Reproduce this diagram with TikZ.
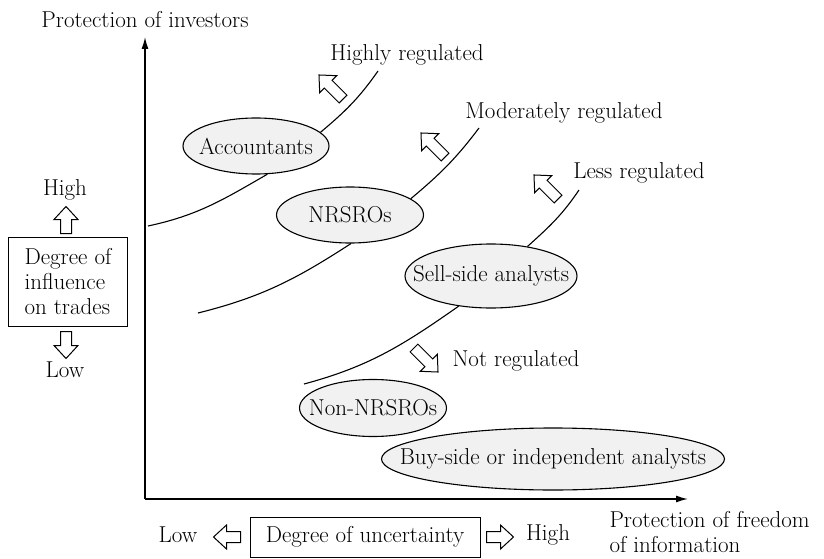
\documentclass[tikz,border=0pt]{standalone}
\usepackage{fontspec}
\usetikzlibrary{shapes.geometric,arrows.meta}

\tikzset{
  group/.style={ellipse,draw,line width=1.1pt,fill=gray!11,inner sep=0pt,
    execute at begin node=\hbox to 0pt\bgroup\hss,
    execute at end node=\hss\egroup},
  frame/.style={draw,line width=1pt,inner sep=0pt},
  border/.style={line width=1.1pt},
  axis/.style={line width=1.4pt,-{Latex[length=12pt,width=7pt]}},
  pics/hollow/.style={code={
    \draw[line width=1pt,fill=white,line join=miter]
      (-#1/2,-5.5) -- (#1/2-13,-5.5) -- (#1/2-13,-12) -- (#1/2,0)
      -- (#1/2-13,12) -- (#1/2-13,5.5) -- (-#1/2,5.5) -- cycle;}}
}

\begin{document}
\begin{tikzpicture}[x=1pt,y=1pt,font=\fontsize{23}{25}\selectfont]
\useasboundingbox (0,0) rectangle (824,558);

% axes
\coordinate (O) at (145,59);
\coordinate (ytop) at (145,521);
\coordinate (xend) at (688,59);
\draw[axis] (O) -- (ytop);
\draw[axis] (O) -- (xend);
\node (yname) at (145,538) {Protection of investors};
\node[anchor=west,align=left] (xname) at (606,26) {Protection of freedom\\of information};

% groups
\node[group,minimum width=146,minimum height=56] (acc) at (256,412) {Accountants};
\node[group,minimum width=147,minimum height=56] (nrsro) at (350,343) {NRSROs};
\node[group,minimum width=172,minimum height=64] (sell) at (491,282) {Sell-side analysts};
\node[group,minimum width=343,minimum height=62] (buy) at (553,99) {Buy-side or independent analysts};
\node[group,minimum width=147,minimum height=57] (non) at (373,150) {Non-NRSROs};

% regulation borders
\coordinate (h0) at (148,332);
\coordinate (h1) at (378,487);
\coordinate (m0) at (198,245);
\coordinate (m1) at (479,430);
\coordinate (l0) at (304,174);
\coordinate (l1) at (579,368);
\draw[border] (h0) to[out=12,in=210] (acc.-68);
\draw[border] (acc.12) to[out=40,in=235] (h1);
\draw[border] (m0) to[out=14,in=213] (nrsro.-88);
\draw[border] (nrsro.15) to[out=40,in=233] (m1);
\draw[border] (l0) to[out=15,in=215] (sell.-137);
\draw[border] (sell.39) to[out=42,in=236] (l1);

\node (high reg) at (407,503) {Highly regulated};
\node (mod reg) at (564,445) {Moderately regulated};
\node (less reg) at (639,385) {Less regulated};
\node[anchor=west] (not reg) at (449,197) {Not regulated};

\pic[rotate=135] at (331,471) {hollow=34};
\pic[rotate=135] at (433,413) {hollow=34};
\pic[rotate=135] at (546,371) {hollow=34};
\pic[rotate=-45] at (426,198) {hollow=34};

% influence on trades
\node[frame,minimum width=119,minimum height=89,align=left] (infl) at (68,276) {Degree of\\influence\\on trades};
\node (infl high) at (65,368) {High};
\node (infl low) at (65,188) {Low};
\pic[rotate=90] at (66,338) {hollow=27};
\pic[rotate=-90] at (66,213) {hollow=27};

% uncertainty
\node[frame,minimum width=230,minimum height=40] (unc) at (365,21) {Degree of uncertainty};
\node (unc low) at (178,23) {Low};
\node (unc high) at (548,23) {High};
\pic[rotate=180] at (227,21) {hollow=27};
\pic at (500,21) {hollow=27};
\end{tikzpicture}
\end{document}
